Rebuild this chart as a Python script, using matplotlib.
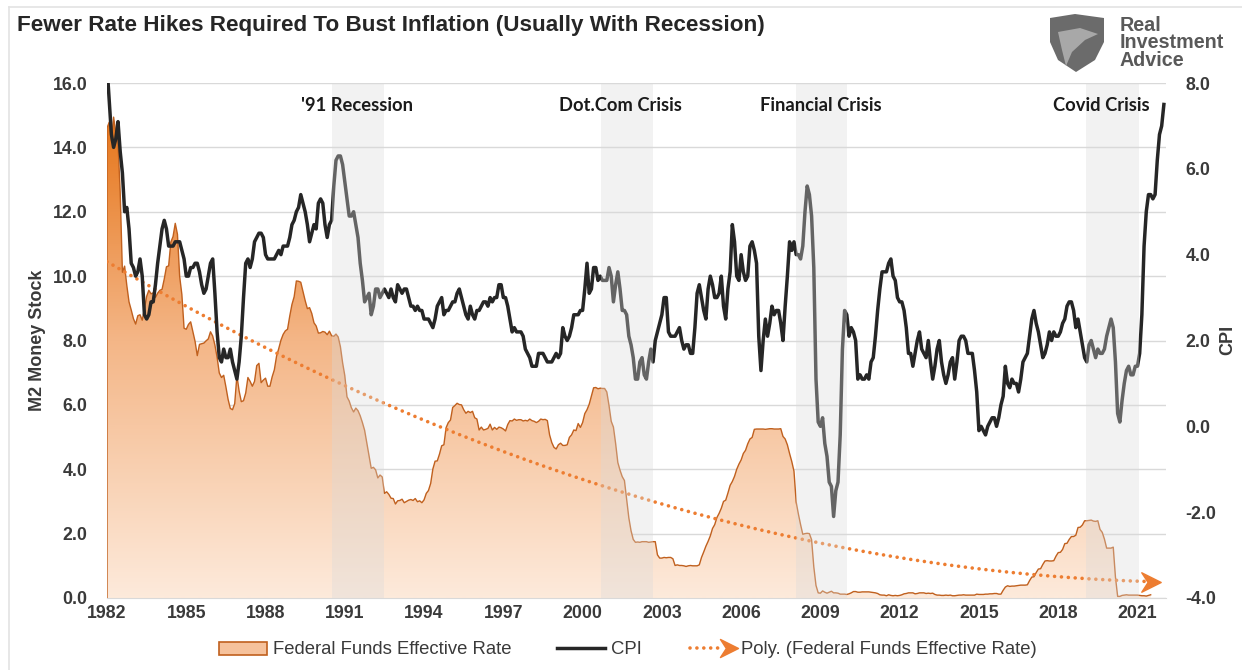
import numpy as np
import matplotlib
matplotlib.use("Agg")
import matplotlib.pyplot as plt
from matplotlib.colors import LinearSegmentedColormap
from matplotlib.lines import Line2D
from matplotlib.patches import Patch, Polygon
from matplotlib.path import Path
from matplotlib.legend_handler import HandlerBase

# ---------------- data (monthly, starting Jan 1982) ----------------
START_YEAR = 1982

fed_funds = [
    14.6, 14.78, 14.2, 14.94, 14.45, 14.15, 12.59, 10.12, 10.31, 9.71, 9.20, 8.95,
    8.68, 8.51, 8.77, 8.80, 8.63, 8.98, 9.37, 9.56, 9.45, 9.48, 9.34, 9.47,
    9.56, 9.59, 9.91, 10.29, 10.32, 11.06, 11.23, 11.64, 11.30, 9.99, 9.43, 8.38,
    8.35, 8.50, 8.58, 8.27, 7.97, 7.53, 7.88, 7.90, 7.92, 7.99, 8.05, 8.27,
    8.14, 7.86, 7.48, 6.99, 6.85, 6.92, 6.56, 6.17, 5.89, 5.85, 6.04, 6.91,
    6.43, 6.10, 6.13, 6.37, 6.85, 6.73, 6.58, 6.73, 7.22, 7.29, 6.69, 6.77,
    6.83, 6.58, 6.58, 6.87, 7.09, 7.51, 7.75, 8.01, 8.19, 8.30, 8.35, 8.76,
    9.12, 9.36, 9.85, 9.84, 9.81, 9.53, 9.24, 8.99, 9.02, 8.84, 8.55, 8.45,
    8.23, 8.24, 8.28, 8.26, 8.18, 8.29, 8.15, 8.13, 8.20, 8.11, 7.81, 7.31,
    6.91, 6.25, 6.12, 5.91, 5.78, 5.90, 5.82, 5.66, 5.45, 5.21, 4.81, 4.43,
    4.03, 4.06, 3.98, 3.73, 3.82, 3.76, 3.25, 3.30, 3.22, 3.10, 3.09, 2.92,
    3.02, 3.03, 3.07, 2.96, 3.00, 3.04, 3.06, 3.03, 3.09, 2.99, 3.02, 2.96,
    3.05, 3.25, 3.34, 3.56, 4.01, 4.25, 4.26, 4.47, 4.73, 4.76, 5.29, 5.45,
    5.53, 5.92, 5.98, 6.05, 6.01, 6.00, 5.85, 5.74, 5.80, 5.76, 5.80, 5.60,
    5.56, 5.22, 5.31, 5.22, 5.24, 5.27, 5.40, 5.22, 5.30, 5.24, 5.31, 5.29,
    5.25, 5.19, 5.39, 5.51, 5.50, 5.56, 5.52, 5.54, 5.54, 5.50, 5.52, 5.50,
    5.56, 5.51, 5.49, 5.45, 5.49, 5.56, 5.54, 5.55, 5.51, 5.07, 4.83, 4.68,
    4.63, 4.76, 4.81, 4.74, 4.74, 4.76, 4.99, 5.07, 5.22, 5.20, 5.42, 5.30,
    5.45, 5.73, 5.85, 6.02, 6.27, 6.53, 6.54, 6.50, 6.52, 6.51, 6.51, 6.40,
    5.98, 5.49, 5.31, 4.80, 4.21, 3.97, 3.77, 3.65, 3.07, 2.49, 2.09, 1.82,
    1.73, 1.74, 1.73, 1.75, 1.75, 1.75, 1.73, 1.74, 1.75, 1.75, 1.34, 1.24,
    1.24, 1.26, 1.25, 1.26, 1.26, 1.22, 1.01, 1.03, 1.01, 1.01, 1.00, 0.98,
    1.00, 1.01, 1.00, 1.00, 1.00, 1.03, 1.26, 1.43, 1.61, 1.76, 1.93, 2.16,
    2.28, 2.50, 2.63, 2.79, 3.00, 3.04, 3.26, 3.50, 3.62, 3.78, 4.00, 4.16,
    4.29, 4.49, 4.59, 4.79, 4.94, 4.99, 5.24, 5.25, 5.25, 5.25, 5.25, 5.24,
    5.25, 5.26, 5.26, 5.25, 5.25, 5.25, 5.26, 5.02, 4.94, 4.76, 4.49, 4.24,
    3.94, 2.98, 2.61, 2.28, 1.98, 2.00, 2.01, 2.00, 1.81, 0.97, 0.39, 0.16,
    0.15, 0.22, 0.18, 0.15, 0.18, 0.21, 0.16, 0.16, 0.15, 0.12, 0.12, 0.12,
    0.11, 0.13, 0.16, 0.20, 0.20, 0.18, 0.18, 0.19, 0.19, 0.19, 0.19, 0.18,
    0.17, 0.16, 0.14, 0.10, 0.09, 0.09, 0.07, 0.10, 0.08, 0.07, 0.08, 0.07,
    0.08, 0.10, 0.13, 0.14, 0.16, 0.16, 0.16, 0.13, 0.14, 0.16, 0.16, 0.16,
    0.14, 0.15, 0.14, 0.15, 0.11, 0.09, 0.09, 0.08, 0.08, 0.09, 0.08, 0.09,
    0.07, 0.07, 0.08, 0.09, 0.09, 0.10, 0.09, 0.09, 0.09, 0.09, 0.09, 0.12,
    0.11, 0.11, 0.11, 0.12, 0.12, 0.13, 0.13, 0.14, 0.14, 0.12, 0.12, 0.24,
    0.34, 0.38, 0.36, 0.37, 0.37, 0.38, 0.39, 0.40, 0.40, 0.40, 0.41, 0.54,
    0.65, 0.66, 0.79, 0.90, 0.91, 1.04, 1.15, 1.16, 1.15, 1.15, 1.16, 1.30,
    1.41, 1.42, 1.51, 1.69, 1.70, 1.82, 1.91, 1.91, 1.95, 2.19, 2.20, 2.27,
    2.40, 2.40, 2.41, 2.42, 2.39, 2.38, 2.40, 2.13, 2.04, 1.83, 1.55, 1.55,
    1.55, 1.58, 0.65, 0.05, 0.05, 0.08, 0.09, 0.10, 0.09, 0.09, 0.09, 0.09,
    0.09, 0.08, 0.07, 0.07, 0.06, 0.08, 0.10,
]

cpi = [
    8.4, 7.6, 6.8, 6.5, 6.7, 7.1, 6.4, 5.9, 5.0, 5.1, 4.6, 3.8,
    3.7, 3.5, 3.6, 3.9, 3.5, 2.6, 2.5, 2.6, 2.9, 2.9, 3.3, 3.8,
    4.2, 4.6, 4.8, 4.6, 4.2, 4.2, 4.2, 4.3, 4.3, 4.3, 4.1, 3.9,
    3.5, 3.5, 3.7, 3.7, 3.8, 3.8, 3.6, 3.3, 3.1, 3.2, 3.5, 3.8,
    3.9, 3.1, 2.2, 1.6, 1.5, 1.8, 1.6, 1.6, 1.8, 1.5, 1.3, 1.1,
    1.5, 2.1, 3.0, 3.8, 3.9, 3.7, 3.9, 4.3, 4.4, 4.5, 4.5, 4.4,
    4.0, 3.9, 3.9, 3.9, 3.9, 4.0, 4.1, 4.0, 4.2, 4.2, 4.2, 4.4,
    4.7, 4.8, 5.0, 5.1, 5.4, 5.2, 5.0, 4.7, 4.3, 4.5, 4.7, 4.6,
    5.2, 5.3, 5.2, 4.7, 4.4, 4.7, 4.8, 5.6, 6.2, 6.3, 6.3, 6.1,
    5.7, 5.3, 4.9, 4.9, 5.0, 4.7, 4.4, 3.8, 3.4, 2.9, 3.0, 3.1,
    2.6, 2.8, 3.2, 3.2, 3.0, 3.1, 3.2, 3.1, 3.0, 3.2, 3.0, 2.9,
    3.3, 3.2, 3.1, 3.2, 3.2, 3.0, 2.8, 2.8, 2.7, 2.8, 2.7, 2.7,
    2.5, 2.5, 2.5, 2.4, 2.3, 2.5, 2.8, 2.9, 3.0, 2.6, 2.7, 2.7,
    2.8, 2.9, 2.9, 3.1, 3.2, 3.0, 2.8, 2.6, 2.5, 2.8, 2.6, 2.5,
    2.7, 2.7, 2.8, 2.9, 2.9, 2.8, 3.0, 2.9, 3.0, 3.0, 3.3, 3.3,
    3.0, 3.0, 2.8, 2.5, 2.2, 2.3, 2.2, 2.2, 2.2, 2.1, 1.8, 1.7,
    1.6, 1.4, 1.4, 1.4, 1.7, 1.7, 1.7, 1.6, 1.5, 1.5, 1.5, 1.6,
    1.7, 1.6, 1.7, 2.3, 2.1, 2.0, 2.1, 2.3, 2.6, 2.6, 2.6, 2.7,
    2.7, 3.2, 3.8, 3.1, 3.2, 3.7, 3.7, 3.4, 3.5, 3.4, 3.4, 3.4,
    3.7, 3.5, 2.9, 3.3, 3.6, 3.2, 2.7, 2.7, 2.6, 2.1, 1.9, 1.6,
    1.1, 1.1, 1.5, 1.6, 1.2, 1.1, 1.5, 1.8, 1.5, 2.0, 2.2, 2.4,
    2.6, 3.0, 3.0, 2.2, 2.1, 2.1, 2.1, 2.2, 2.3, 2.0, 1.8, 1.9,
    1.9, 1.7, 1.7, 2.3, 3.1, 3.3, 3.0, 2.7, 2.5, 3.2, 3.5, 3.3,
    3.0, 3.0, 3.1, 3.5, 2.8, 2.5, 3.2, 3.6, 4.7, 4.3, 3.5, 3.4,
    4.0, 3.6, 3.4, 3.5, 4.2, 4.3, 4.1, 3.8, 2.1, 1.3, 2.0, 2.5,
    2.1, 2.4, 2.8, 2.6, 2.7, 2.7, 2.4, 2.0, 2.8, 3.5, 4.3, 4.1,
    4.3, 4.0, 4.0, 3.9, 4.2, 5.0, 5.6, 5.4, 4.9, 3.7, 1.1, 0.1,
    0.0, 0.2, -0.4, -0.7, -1.3, -1.4, -2.1, -1.5, -1.3, -0.2, 1.8, 2.7,
    2.6, 2.1, 2.3, 2.2, 2.0, 1.1, 1.2, 1.1, 1.1, 1.2, 1.1, 1.5,
    1.6, 2.1, 2.7, 3.2, 3.6, 3.6, 3.6, 3.8, 3.9, 3.5, 3.4, 3.0,
    2.9, 2.9, 2.7, 2.3, 1.7, 1.7, 1.4, 1.7, 2.0, 2.2, 1.8, 1.7,
    1.6, 2.0, 1.5, 1.1, 1.4, 1.8, 2.0, 1.5, 1.2, 1.0, 1.2, 1.5,
    1.6, 1.1, 1.5, 2.0, 2.1, 2.1, 2.0, 1.7, 1.7, 1.7, 1.3, 0.8,
    -0.1, 0.0, -0.1, -0.2, 0.0, 0.1, 0.2, 0.2, 0.0, 0.2, 0.5, 0.7,
    1.4, 1.0, 0.9, 1.1, 1.0, 1.0, 0.8, 1.1, 1.5, 1.6, 1.7, 2.1,
    2.5, 2.7, 2.4, 2.2, 1.9, 1.6, 1.7, 1.9, 2.2, 2.0, 2.2, 2.1,
    2.1, 2.2, 2.4, 2.5, 2.8, 2.9, 2.9, 2.7, 2.3, 2.5, 2.2, 1.9,
    1.6, 1.5, 1.9, 2.0, 1.8, 1.6, 1.8, 1.7, 1.7, 1.8, 2.1, 2.3,
    2.5, 2.3, 1.5, 0.3, 0.1, 0.6, 1.0, 1.3, 1.4, 1.2, 1.2, 1.4,
    1.4, 1.7, 2.6, 4.2, 5.0, 5.4, 5.4, 5.3, 5.4, 6.2, 6.8, 7.0,
    7.5,
]

year_ticks = list(range(1982, 2022, 3))
left_ticks = [0, 2, 4, 6, 8, 10, 12, 14, 16]
right_ticks = [-4, -2, 0, 2, 4, 6, 8]

recession_names = ["'91 Recession", "Dot.Com Crisis", "Financial Crisis", "Covid Crisis"]
recession_start = [1990.5, 2000.7, 2008.06, 2019.06]
recession_end = [1992.48, 2002.65, 2010.0, 2021.07]
recession_label_x = [1991.46, 2001.42, 2009.02, 2019.62]

title = "Fewer Rate Hikes Required To Bust Inflation (Usually With Recession)"

# ---------------- figure ----------------
W, H = 1242, 670
fig = plt.figure(figsize=(W / 100, H / 100), dpi=100)
fig.patch.set_facecolor("white")

def fx(px):
    return px / W

def fy(py):
    return 1 - py / H

ax = fig.add_axes([fx(107), fy(598), fx(1166 - 107), (598 - 83) / H])
ax2 = ax.twinx()

x_ff = START_YEAR + np.arange(len(fed_funds)) / 12.0
x_cpi = START_YEAR + np.arange(len(cpi)) / 12.0
ff = np.array(fed_funds)

XMIN, XMAX = 1982.0, 2022.08

# gradient area for fed funds
grad_cmap = LinearSegmentedColormap.from_list("ffgrad", ["#FDEADB", "#F4B687", "#E46C0A"])
poly = ax.fill_between(x_ff, 0, ff, facecolor="none", edgecolor="none", zorder=2)
grad = np.linspace(0, 1, 512).reshape(-1, 1)
im = ax.imshow(grad, extent=[XMIN, XMAX, 0, 16], origin="lower", aspect="auto",
               cmap=grad_cmap, zorder=2, interpolation="bilinear")
im.set_clip_path(poly.get_paths()[0], transform=ax.transData)
ax.plot(np.r_[x_ff[0], x_ff], np.r_[0, ff], color="#C0601E", lw=1.0, zorder=3)

# polynomial trendline (order 2) computed from the fed funds series
coef = np.polyfit(x_ff - START_YEAR, ff, 2)
trend = np.polyval(coef, x_ff - START_YEAR)
ax.plot(x_ff, trend, color="#ED7D31", lw=2.6, ls=(0, (0.01, 1.9)),
        dash_capstyle="round", zorder=4)
arrow_marker = Path([(-1, 1), (1, 0), (-1, -1), (-0.35, 0), (-1, 1)],
                    [Path.MOVETO, Path.LINETO, Path.LINETO, Path.LINETO, Path.CLOSEPOLY])
ax.plot([x_ff[-1]], [trend[-1]], marker=arrow_marker, color="#ED7D31", ms=14, zorder=4)

ax.set_xlim(XMIN, XMAX)
ax.set_ylim(0, 16)
ax.set_yticks(left_ticks)
ax.set_yticklabels([f"{v:.1f}" for v in left_ticks])
ax.set_xticks(year_ticks)
ax.set_xticklabels([str(y) for y in year_ticks])
ax.yaxis.grid(True, color="#D9D9D9", lw=1.0)
ax.set_axisbelow(True)
for s in ["top", "left", "right"]:
    ax.spines[s].set_visible(False)
ax.spines["bottom"].set_color("#D9D9D9")
ax.tick_params(axis="both", length=0, labelsize=12.8, labelcolor="#3A3A3A")
ax.tick_params(axis="y", pad=14)
ax.tick_params(axis="x", pad=5)
for lab in ax.get_xticklabels() + ax.get_yticklabels():
    lab.set_fontweight("bold")
    lab.set_fontfamily("Liberation Sans")

# CPI on secondary axis
ax2.plot(x_cpi, cpi, color="#262626", lw=2.5, zorder=3, solid_joinstyle="round")
ax2.set_ylim(-4, 8)
ax2.set_yticks(right_ticks)
ax2.set_yticklabels([f"{v:.1f}" for v in right_ticks])
for s in ["top", "left", "right", "bottom"]:
    ax2.spines[s].set_visible(False)
ax2.tick_params(axis="y", length=0, labelsize=12.8, labelcolor="#3A3A3A", pad=14)
for lab in ax2.get_yticklabels():
    lab.set_fontweight("bold")
    lab.set_fontfamily("Liberation Sans")

# recession bands (semi-transparent, on top) and labels
for name, s, e, lx in zip(recession_names, recession_start, recession_end, recession_label_x):
    ax2.axvspan(s, e, color="#DADADA", alpha=0.35, lw=0, zorder=5)
    ax2.text(lx, 0.957, name, transform=ax2.get_xaxis_transform(), ha="center", va="center",
             fontsize=13.2, fontweight="bold", family=["Lato", "DejaVu Sans"], color="#1A1A1A", zorder=6)
ax2.set_xlim(XMIN, XMAX)

# axis labels
fig.text(fx(37), fy(340), "M2 Money Stock", rotation=90, ha="center", va="center",
         fontsize=13, fontweight="bold", family="Liberation Sans", color="#3A3A3A")
fig.text(fx(1228), fy(340), "CPI", rotation=90, ha="center", va="center",
         fontsize=13, fontweight="bold", family="Liberation Sans", color="#3A3A3A")

# title
fig.text(fx(17), fy(26), title, ha="left", va="center", fontsize=16.2, fontweight="bold",
         family=["Liberation Sans Narrow", "Liberation Sans"], color="#262626")

# logo
fig.text(fx(1120), fy(43), "Real\nInvestment\nAdvice", ha="left", va="center", fontsize=14.2,
         fontweight="bold", family="Liberation Sans", color="#595959", linespacing=0.9)
shield = [(1050, 18), (1075, 14), (1104, 18), (1104, 42), (1095, 60), (1076, 72),
          (1058, 60), (1050, 42)]
fig.patches.append(Polygon([(fx(px), fy(py)) for px, py in shield], closed=True,
                           transform=fig.transFigure, facecolor="#6B6B6B", edgecolor="none"))
wing = [(1058, 32), (1080, 28), (1098, 34), (1085, 40), (1072, 52), (1066, 66), (1062, 50)]
fig.patches.append(Polygon([(fx(px), fy(py)) for px, py in wing], closed=True,
                           transform=fig.transFigure, facecolor="#A8A8A8", edgecolor="none"))

# frame lines of the screenshot
fig.add_artist(Line2D([fx(9), 1], [fy(7), fy(7)], transform=fig.transFigure, color="#E3E3E3", lw=1.2))
fig.add_artist(Line2D([fx(9), fx(9)], [fy(7), 0], transform=fig.transFigure, color="#E3E3E3", lw=1.2))

# legend
class TrendHandler(HandlerBase):
    def create_artists(self, legend, orig_handle, xdescent, ydescent, width, height, fontsize, trans):
        y = height / 2 - ydescent
        line = Line2D([-xdescent + 2, width - xdescent - 9], [y, y], color="#ED7D31", lw=2.6,
                      ls=(0, (0.01, 1.9)), dash_capstyle="round")
        head = Line2D([width - xdescent - 5], [y], marker=arrow_marker, color="#ED7D31",
                      ms=13, ls="none")
        line.set_transform(trans)
        head.set_transform(trans)
        return [line, head]

h_fill = Patch(facecolor="#F6C29C", edgecolor="#C0601E", lw=1.2)
h_cpi = Line2D([], [], color="#262626", lw=2.5)
h_trend = Line2D([], [], color="#ED7D31")
leg = fig.legend([h_fill, h_cpi, h_trend],
                 ["Federal Funds Effective Rate", "CPI", "Poly. (Federal Funds Effective Rate)"],
                 loc="center", bbox_to_anchor=(fx(628), fy(650)), ncol=3, frameon=False,
                 handlelength=2.6, handleheight=0.7, handletextpad=0.3,
                 columnspacing=2.5, handler_map={h_trend: TrendHandler()},
                 prop={"family": "Liberation Sans", "size": 13.3})
for t in leg.get_texts():
    t.set_color("#3A3A3A")

fig.savefig("out.png", dpi=100)
